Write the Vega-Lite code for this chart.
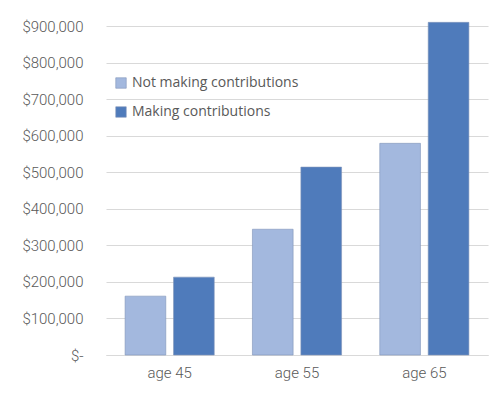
{
  "$schema": "https://vega.github.io/schema/vega-lite/v6.json",
  "width": 382,
  "height": 329,
  "autosize": {"type": "none"},
  "padding": {"left": 106, "top": 26, "right": 13, "bottom": 41},
  "background": "white",
  "config": {
    "view": {"stroke": null},
    "font": "Roboto"
  },
  "data": {
    "values": [
      {"age": "age 45", "series": "Not making contributions", "value": 161000},
      {"age": "age 45", "series": "Making contributions", "value": 213000},
      {"age": "age 55", "series": "Not making contributions", "value": 344000},
      {"age": "age 55", "series": "Making contributions", "value": 514000},
      {"age": "age 65", "series": "Not making contributions", "value": 579000},
      {"age": "age 65", "series": "Making contributions", "value": 910000}
    ]
  },
  "mark": {"type": "bar", "stroke": "#7f93b8", "strokeWidth": 0.6},
  "encoding": {
    "x": {
      "field": "age",
      "type": "nominal",
      "scale": {"paddingInner": 0.3, "paddingOuter": 0.15},
      "axis": {
        "title": null,
        "labelAngle": 0,
        "ticks": false,
        "domain": true,
        "domainColor": "#d9d9d9",
        "labelFontSize": 15,
        "labelFontWeight": 300,
        "labelColor": "#595959",
        "labelPadding": 10
      }
    },
    "xOffset": {
      "field": "series",
      "type": "nominal",
      "sort": ["Not making contributions", "Making contributions"],
      "scale": {"paddingInner": 0.16, "paddingOuter": 0}
    },
    "y": {
      "field": "value",
      "type": "quantitative",
      "scale": {"domain": [0, 900000], "nice": false},
      "axis": {
        "title": null,
        "values": [0, 100000, 200000, 300000, 400000, 500000, 600000, 700000, 800000, 900000],
        "labelExpr": "datum.value == 0 ? '$-\u00a0\u00a0\u00a0' : format(datum.value, '$,')",
        "domain": false,
        "ticks": false,
        "gridColor": "#d9d9d9",
        "labelFontSize": 15,
        "labelFontWeight": 300,
        "labelColor": "#595959",
        "labelPadding": 23
      }
    },
    "color": {
      "field": "series",
      "type": "nominal",
      "sort": ["Not making contributions", "Making contributions"],
      "scale": {"range": ["#a3b8de", "#4f7bbb"]},
      "legend": {
        "title": null,
        "orient": "none",
        "legendX": 8,
        "legendY": 50,
        "symbolType": "square",
        "symbolSize": 110,
        "symbolStrokeColor": "#7f93b8",
        "symbolStrokeWidth": 0.6,
        "labelFont": "Open Sans",
        "labelFontSize": 14,
        "labelColor": "#595959",
        "labelLimit": 400,
        "rowPadding": 15,
        "labelOffset": 4
      }
    }
  }
}
